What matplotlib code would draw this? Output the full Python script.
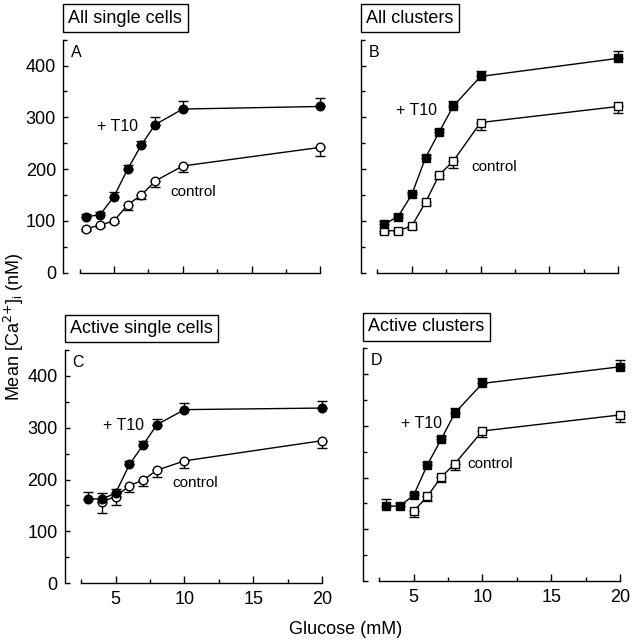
import matplotlib.pyplot as plt
from matplotlib.ticker import MultipleLocator

plt.rcParams['font.family'] = ['Liberation Sans', 'DejaVu Sans']

# glucose concentrations (mM)
x_all = [3, 4, 5, 6, 7, 8, 10, 20]
x_from4 = [4, 5, 6, 7, 8, 10, 20]
x_from5 = [5, 6, 7, 8, 10, 20]

# A: all single cells
a_t10 = [108, 112, 147, 200, 247, 286, 316, 321]
a_t10_err = [5, 5, 8, 8, 8, 14, 16, 17]
a_ctl = [85, 92, 100, 131, 150, 177, 206, 242]
a_ctl_err = [4, 4, 5, 10, 8, 11, 12, 16]

# B: all clusters
b_t10 = [94, 108, 151, 222, 272, 321, 379, 414]
b_t10_err = [5, 5, 5, 5, 6, 10, 11, 15]
b_ctl = [81, 81, 90, 136, 189, 215, 290, 321]
b_ctl_err = [4, 4, 5, 6, 9, 13, 14, 13]

# C: active single cells
c_t10 = [163, 162, 174, 229, 267, 306, 335, 338]
c_t10_err = [12, 12, 8, 7, 7, 11, 12, 14]
c_ctl = [157, 167, 188, 199, 218, 236, 275]
c_ctl_err = [22, 17, 13, 12, 13, 13, 15]

# D: active clusters
d_t10 = [145, 145, 166, 225, 274, 325, 382, 414]
d_t10_err = [13, 5, 5, 5, 6, 9, 10, 14]
d_ctl = [135, 164, 201, 227, 290, 321]
d_ctl_err = [11, 10, 10, 13, 12, 13]

panels = [
    ('A', 'All single cells', 'o', x_all, a_t10, a_t10_err, x_all, a_ctl, a_ctl_err,
     (3.75, 283), (9.1, 155)),
    ('B', 'All clusters', 's', x_all, b_t10, b_t10_err, x_all, b_ctl, b_ctl_err,
     (3.85, 313), (9.3, 205)),
    ('C', 'Active single cells', 'o', x_all, c_t10, c_t10_err, x_from4, c_ctl, c_ctl_err,
     (4.1, 304), (9.1, 194)),
    ('D', 'Active clusters', 's', x_all, d_t10, d_t10_err, x_from5, d_ctl, d_ctl_err,
     (4.1, 304), (8.9, 227)),
]

fig = plt.figure(figsize=(6.32, 6.4), dpi=100)
rects = [[0.0997, 0.574, 0.418, 0.364], [0.571, 0.574, 0.418, 0.364],
         [0.1025, 0.089, 0.418, 0.364], [0.574, 0.092, 0.418, 0.364]]

for i, (letter, title, mk, xt, yt, et, xc, yc, ec, pos_t, pos_c) in enumerate(panels):
    ax = fig.add_axes(rects[i])
    ms = 6.2 if mk == 'o' else 5.6
    # error bars: one-sided (T10 upwards, control downwards)
    ax.errorbar(xt, yt, yerr=[[0] * len(et), et], fmt='none', ecolor='black',
                elinewidth=1, capsize=3.5, capthick=1, zorder=1)
    ax.errorbar(xc, yc, yerr=[ec, [0] * len(ec)], fmt='none', ecolor='black',
                elinewidth=1, capsize=3.5, capthick=1, zorder=1)
    ax.plot(xc, yc, marker=mk, color='black', mfc='white', mec='black', ms=ms,
            lw=1, mew=1, zorder=3)
    ax.plot(xt, yt, marker=mk, color='black', mfc='black', mec='black', ms=ms,
            lw=1, mew=1, zorder=3)

    ax.set_xlim(1.3, 20.5)
    ax.set_ylim(0, 450)
    for s in ['top', 'right']:
        ax.spines[s].set_visible(False)
    ax.spines['bottom'].set_bounds(2.5, 20)
    ax.spines['left'].set_linewidth(1)
    ax.spines['bottom'].set_linewidth(1)

    ax.xaxis.set_major_locator(MultipleLocator(5))
    ax.xaxis.set_minor_locator(MultipleLocator(2.5))
    ax.set_yticks([0, 100, 200, 300, 400])
    ax.yaxis.set_minor_locator(MultipleLocator(50))
    ax.tick_params(axis='x', which='major', direction='in', length=5, width=1,
                   labelsize=13, pad=6)
    ax.tick_params(axis='x', which='minor', direction='in', length=3, width=1)
    ax.tick_params(axis='y', which='major', direction='in', length=3.8, width=1,
                   labelsize=13, pad=5)
    ax.tick_params(axis='y', which='minor', direction='in', length=3.2, width=1)
    if i in (1, 3):
        ax.tick_params(axis='y', labelleft=False)
    if i in (0, 1):
        ax.tick_params(axis='x', labelbottom=False)

    ax.text(0.03, 0.945, letter, transform=ax.transAxes, fontsize=11.5,
            ha='left', va='center')
    ax.text(0.02, 1.056, title, transform=ax.transAxes, fontsize=13,
            ha='left', va='bottom',
            bbox=dict(boxstyle='square,pad=0.3', fc='white', ec='black', lw=1))
    ax.text(pos_t[0], pos_t[1], '+ T10', fontsize=11.5, ha='left', va='center')
    ax.text(pos_c[0], pos_c[1], 'control', fontsize=11, ha='left', va='center')

fig.text(0.022, 0.489, 'Mean [Ca$^{2{+}}$]$_\\mathregular{i}$ (nM)', rotation=90,
         fontsize=13, ha='center', va='center')
fig.text(0.547, 0.016, 'Glucose (mM)', fontsize=13, ha='center', va='center')

fig.savefig('out.png', dpi=100)
